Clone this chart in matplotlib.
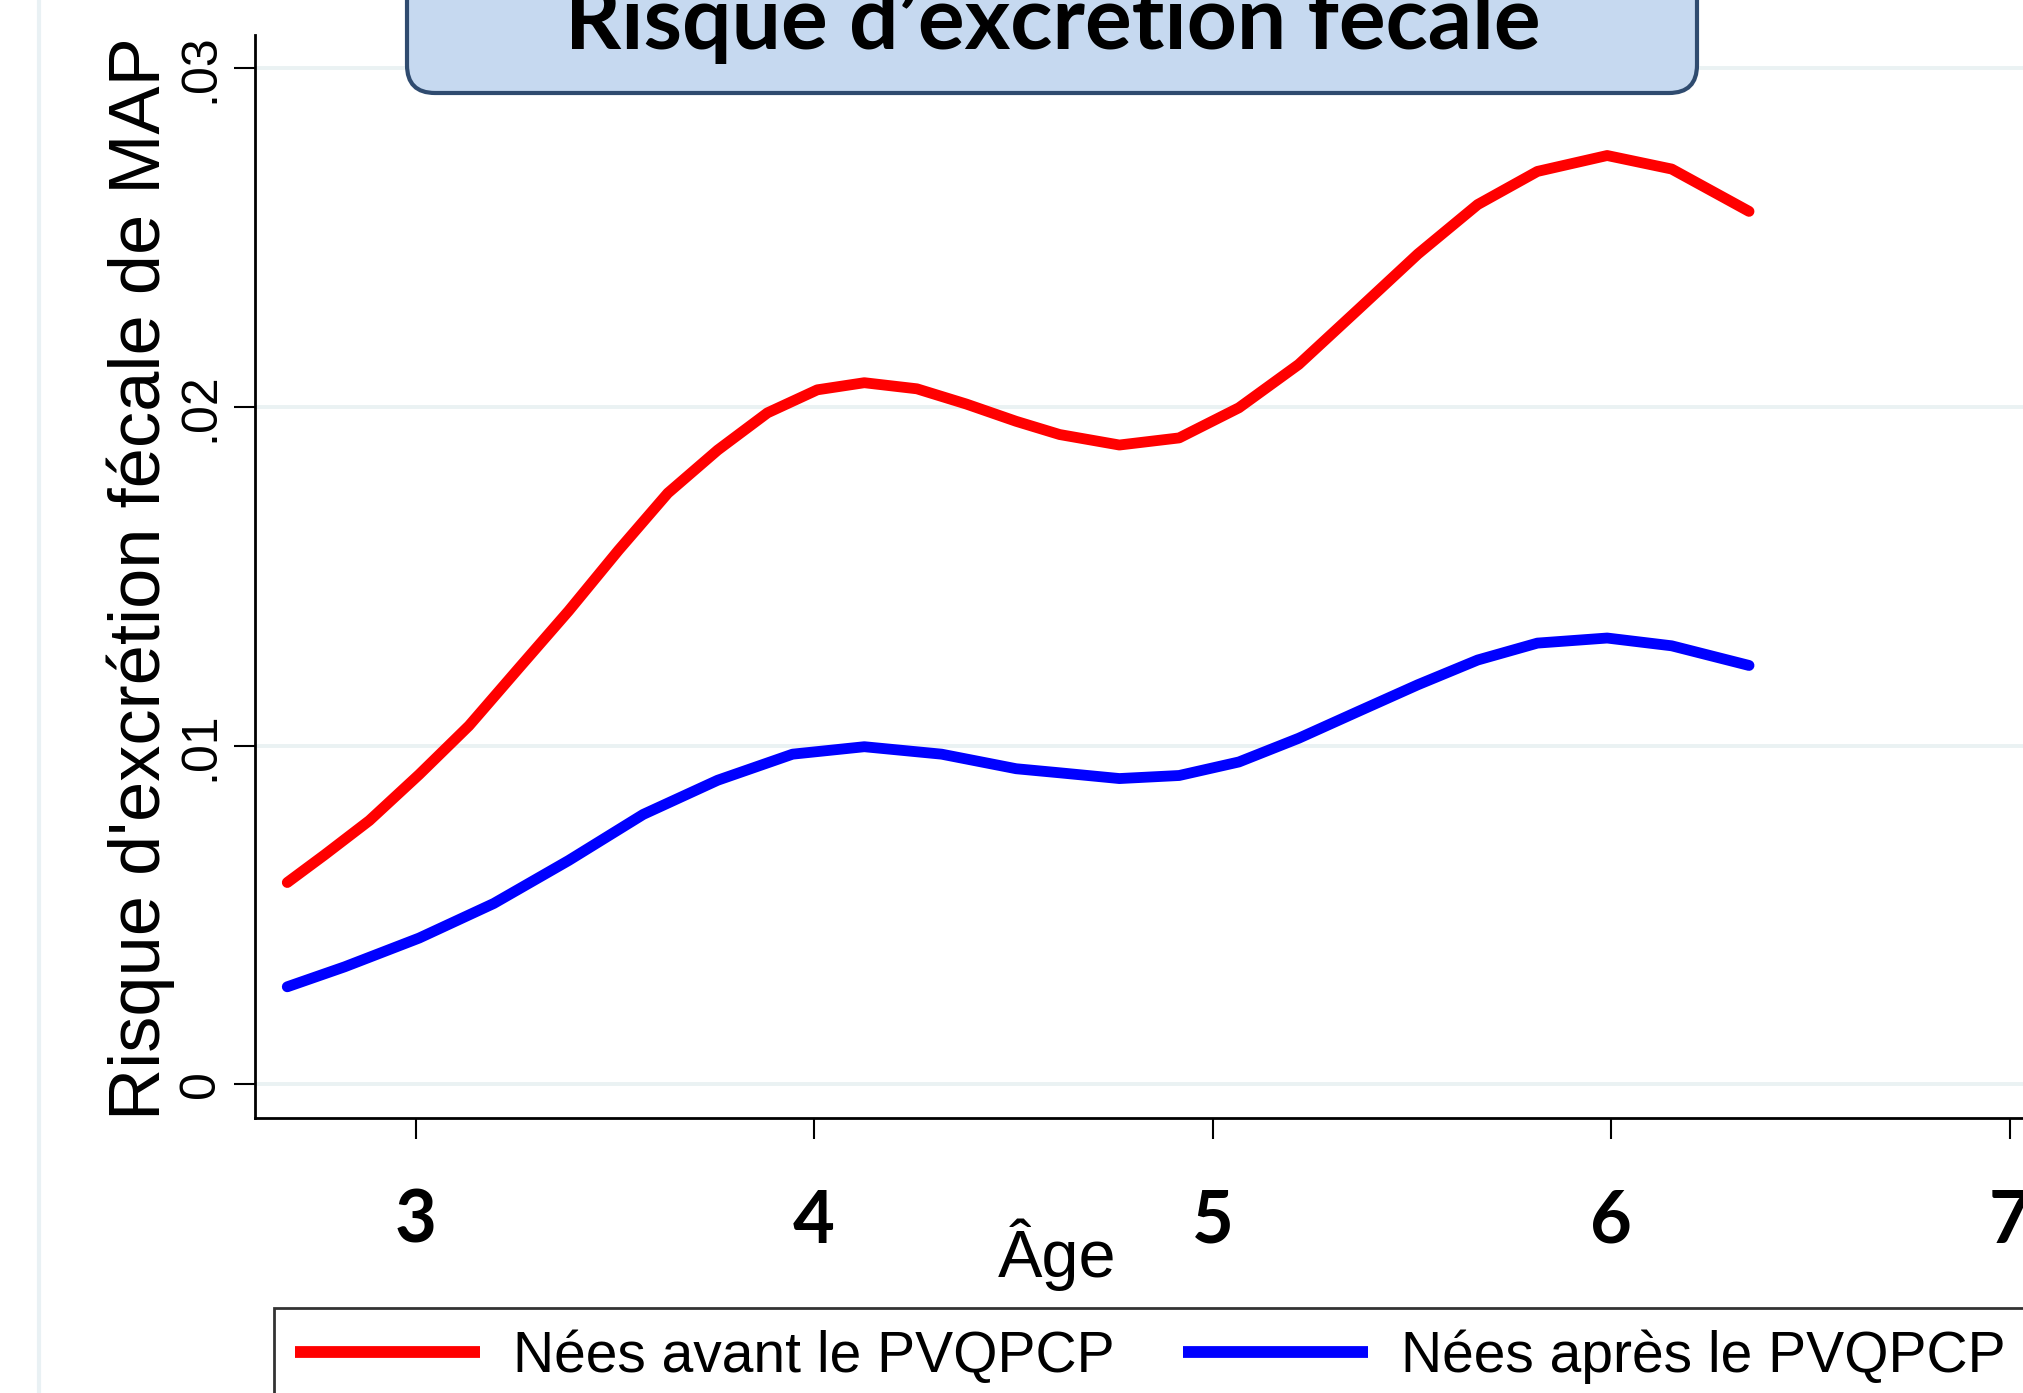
import matplotlib
matplotlib.use("Agg")
import matplotlib.pyplot as plt
from matplotlib.patches import FancyBboxPatch
from matplotlib.lines import Line2D
from matplotlib.transforms import IdentityTransform

plt.rcParams['font.family'] = ['Liberation Sans', 'DejaVu Sans']

# values
age_avant = [2.678, 2.772, 2.884, 3.009, 3.134, 3.259, 3.384, 3.509, 3.633, 3.758,
             3.883, 4.008, 4.126, 4.258, 4.382, 4.507, 4.616, 4.766, 4.916, 5.066,
             5.216, 5.365, 5.515, 5.665, 5.815, 5.990, 6.152, 6.346]
risque_avant = [0.00596, 0.00678, 0.00779, 0.00915, 0.01059, 0.01229, 0.01398, 0.01577,
                0.01746, 0.01873, 0.01983, 0.02051, 0.02072, 0.02054, 0.02009, 0.01958,
                0.01919, 0.01888, 0.01909, 0.01998, 0.02126, 0.02288, 0.02452, 0.02598,
                0.02696, 0.02743, 0.02703, 0.02578]

age_apres = [2.678, 2.822, 3.009, 3.196, 3.384, 3.571, 3.758, 3.946, 4.126, 4.320,
             4.507, 4.616, 4.766, 4.916, 5.066, 5.216, 5.365, 5.515, 5.665, 5.815,
             5.990, 6.152, 6.346]
risque_apres = [0.00288, 0.00347, 0.00432, 0.00534, 0.00661, 0.00797, 0.00898, 0.00975,
                0.00997, 0.00975, 0.00932, 0.00920, 0.00903, 0.00912, 0.00952, 0.01022,
                0.01101, 0.01180, 0.01253, 0.01303, 0.01318, 0.01295, 0.01237]

x_ticks = [3, 4, 5, 6, 7]
y_ticks = [0, 0.01, 0.02, 0.03]
y_tick_labels = ["0", ".01", ".02", ".03"]
series_labels = ["Nées avant le PVQPCP", "Nées après le PVQPCP"]
titre = "Risque d’excrétion fécale"

W, H = 2024, 1393
fig = plt.figure(figsize=(W / 100, H / 100), dpi=100)
ax = fig.add_axes([255 / W, 1 - 1117.7 / H, 1 - 255 / W, (1117.7 - 35) / H])

ax.plot(age_avant, risque_avant, color="#ff0000", lw=7.8, solid_capstyle="round",
        solid_joinstyle="round", label=series_labels[0], zorder=3)
ax.plot(age_apres, risque_apres, color="#0000ff", lw=7.8, solid_capstyle="round",
        solid_joinstyle="round", label=series_labels[1], zorder=3)

ax.set_xlim(2.597, 7.036)
ax.set_ylim(-0.000986, 0.030989)

# light stata-style grid
ax.set_yticks(y_ticks, labels=y_tick_labels)
ax.grid(axis="y", color="#eaf2f3", lw=2.8)
ax.set_axisbelow(True)

ax.set_xticks(x_ticks, labels=[str(t) for t in x_ticks])
for lab in ax.get_xticklabels():
    lab.set_fontfamily("Lato")
    lab.set_fontweight("bold")
    lab.set_fontsize(52)

ax.tick_params(axis="x", length=15, width=1.5, pad=36)
ax.tick_params(axis="y", length=15, width=1.5, pad=7.5, labelsize=36)
for lab in ax.get_yticklabels():
    lab.set_rotation(90)
    lab.set_va("center")

for s in ["top", "right"]:
    ax.spines[s].set_visible(False)
for s in ["left", "bottom"]:
    ax.spines[s].set_linewidth(2)

fig.text(160 / W, 1 - 579 / H, "Risque d'excrétion fécale de MAP", fontsize=52,
         rotation=90, rotation_mode="anchor", ha="center", va="baseline")
fig.text(1057 / W, 1 - 1277 / H, "Âge", fontsize=48, ha="center", va="baseline")

# thin frame line on the left
fig.add_artist(Line2D([39 / W, 39 / W], [0, 1], transform=fig.transFigure,
                      color="#e9f1f4", lw=3))

# title box (pixel coords)
box = FancyBboxPatch((407, H - 93), 1697 - 407, 200,
                     boxstyle="round,pad=0,rounding_size=28",
                     facecolor="#c6d9f0", edgecolor="#2f4b6f", lw=3,
                     transform=IdentityTransform(), zorder=5)
fig.add_artist(box)
fig.text(1053 / W, 1 - 49 / H, titre, fontsize=63, fontfamily="Lato",
         fontweight="bold", ha="center", va="baseline", zorder=6)

leg = ax.legend(loc="upper left", bbox_to_anchor=(274 / W, 1 - 1308 / H),
                bbox_transform=fig.transFigure, ncol=2, fontsize=41,
                frameon=True, fancybox=False, edgecolor="black",
                handlelength=3.25, handletextpad=0.58, columnspacing=1.2,
                borderpad=0.37, borderaxespad=0)
leg.get_frame().set_linewidth(2)
for ln in leg.get_lines():
    ln.set_linewidth(8.5)
    ln.set_solid_capstyle("butt")

fig.savefig("out.png", dpi=100)
